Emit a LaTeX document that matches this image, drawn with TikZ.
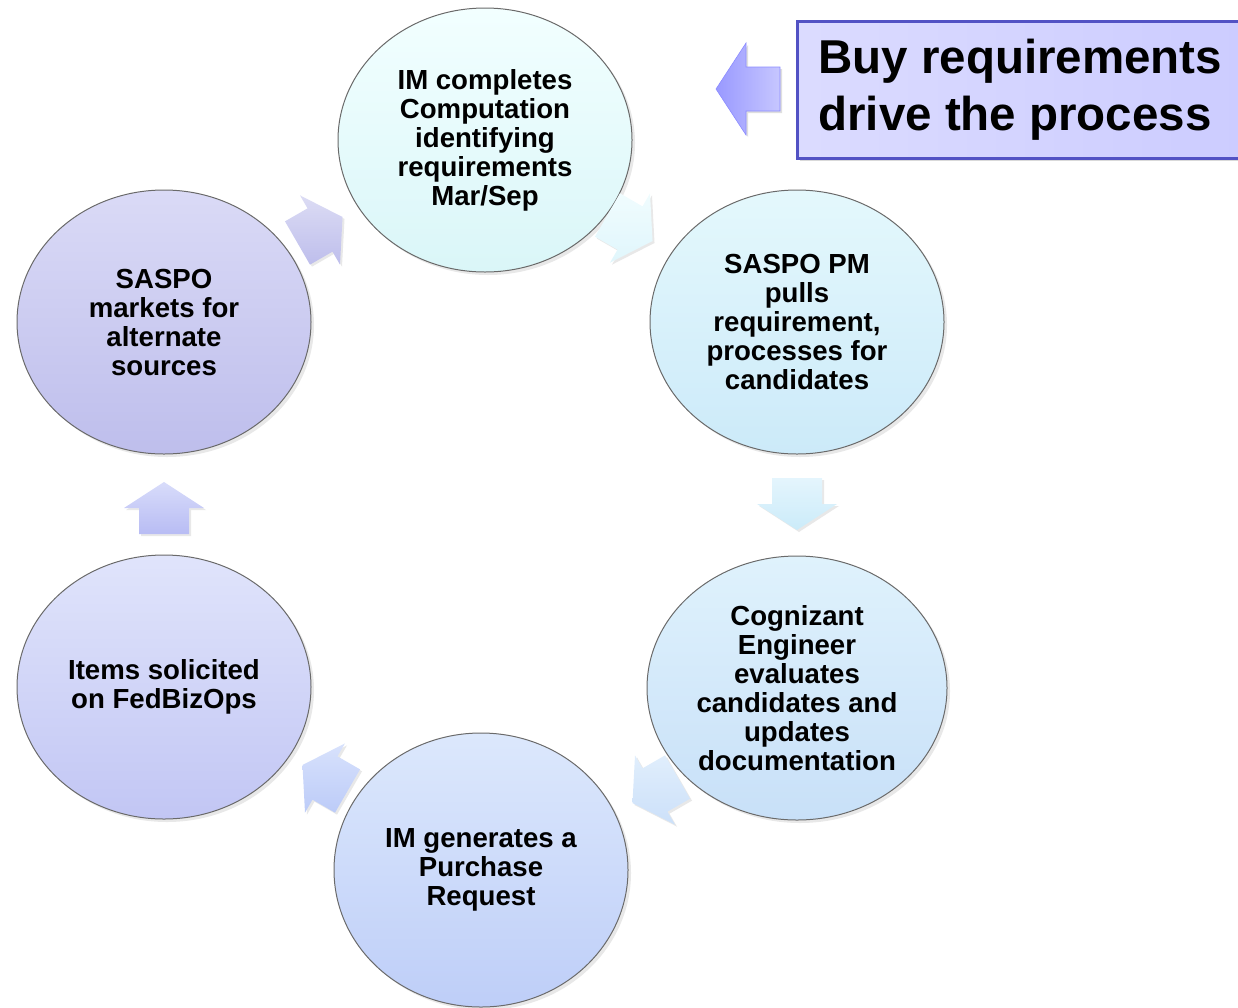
\documentclass[tikz,border=0pt]{standalone}
\usepackage{fontspec}
\setmainfont{Liberation Sans}
\usetikzlibrary{shapes.geometric,shadows}

\definecolor{bordgray}{HTML}{6A6A6A}
\definecolor{calloutblue}{HTML}{5252C4}
\definecolor{arrcyanA}{HTML}{F0FCFE}
\definecolor{arrcyanB}{HTML}{E0F6FC}
\definecolor{arrdownA}{HTML}{E4F5FD}
\definecolor{arrdownB}{HTML}{CBEBF9}
\definecolor{arrskyA}{HTML}{E0EEFC}
\definecolor{arrskyB}{HTML}{CCE0F9}
\definecolor{arrperiA}{HTML}{D8E2FC}
\definecolor{arrperiB}{HTML}{BCCBF8}
\definecolor{arrlavA}{HTML}{D8DCFA}
\definecolor{arrlavB}{HTML}{B8BCF4}
\definecolor{arrlilA}{HTML}{DCDCF4}
\definecolor{arrlilB}{HTML}{BEBEEC}

\tikzset{
  bubble/.style={ellipse, draw=bordgray, line width=1pt, inner sep=0pt,
    minimum width=294, minimum height=264, align=center,
    font=\fontsize{27.6}{29}\selectfont\bfseries,
    drop shadow={opacity=0.18, shadow xshift=3pt, shadow yshift=-3pt}},
  callout/.style={rectangle, draw=calloutblue, line width=2.5pt,
    left color=lavender!70!white, right color=lavender,
    minimum width=446, minimum height=137, align=left,
    font=\fontsize{47.5}{57}\selectfont\bfseries,
    drop shadow={opacity=0.3, shadow xshift=3pt, shadow yshift=-3pt}}
}
\colorlet{lavender}{blue!20!white}

% block arrow: centre, heading, top colour, bottom colour
\newcommand{\flowarrow}[4]{%
  \begin{scope}[shift={(#1)},rotate=#2]
    \path[top color=#3, bottom color=#4,
      drop shadow={opacity=0.18, shadow xshift=2pt, shadow yshift=-2pt}]
      (-26,-25) -- (0,-25) -- (0,-40) -- (26,0) -- (0,40) -- (0,25) -- (-26,25) -- cycle;
  \end{scope}}

\begin{document}
\begin{tikzpicture}[x=1pt,y=-1pt]
\useasboundingbox (0,0) rectangle (1238,1007);

% the six steps
\node (compute) [bubble, top color={rgb,255:red,242;green,255;blue,255}, bottom color={rgb,255:red,218;green,246;blue,248}]
  at (485,140) {IM completes\\Computation\\identifying\\requirements\\Mar/Sep};
\node (pull) [bubble, top color={rgb,255:red,228;green,248;blue,252}, bottom color={rgb,255:red,204;green,234;blue,249}]
  at (797,322) {SASPO PM\\pulls\\requirement,\\processes for\\candidates};
\node (evaluate) [bubble, minimum width=300, top color={rgb,255:red,223;green,242;blue,252}, bottom color={rgb,255:red,200;green,224;blue,248}]
  at (797,688) {Cognizant\\Engineer\\evaluates\\candidates and\\updates\\documentation};
\node (purchase) [bubble, minimum height=274, top color={rgb,255:red,220;green,232;blue,252}, bottom color={rgb,255:red,190;green,206;blue,248}]
  at (481,870) {IM generates a\\Purchase\\Request};
\node (solicit) [bubble, top color={rgb,255:red,224;green,228;blue,251}, bottom color={rgb,255:red,194;green,198;blue,244}]
  at (164,687) {Items solicited\\on FedBizOps};
\node (market) [bubble, top color={rgb,255:red,218;green,218;blue,246}, bottom color={rgb,255:red,190;green,190;blue,236}]
  at (164,322) {SASPO\\markets for\\alternate\\sources};

% arrows between the steps
\flowarrow{630,228}{-30}{arrcyanA}{arrcyanB}
\flowarrow{797,504}{-90}{arrdownA}{arrdownB}
\flowarrow{655,790}{210}{arrskyA}{arrskyB}
\flowarrow{325,778}{150}{arrperiA}{arrperiB}
\flowarrow{164,508}{90}{arrlavA}{arrlavB}
\flowarrow{320,230}{30}{arrlilA}{arrlilB}

% callout
\node (drive) [callout, anchor=north west] at (796,20) {Buy requirements\\drive the process};
\begin{scope}[shift={(748,89)},rotate=180]
  \path[left color=blue!40, right color=blue!22, draw=blue!45, line width=0.6pt,
    drop shadow={opacity=0.25, shadow xshift=2pt, shadow yshift=-2pt}]
    (-32,-22) -- (2,-22) -- (2,-46) -- (32,0) -- (2,46) -- (2,22) -- (-32,22) -- cycle;
\end{scope}
\end{tikzpicture}
\end{document}
